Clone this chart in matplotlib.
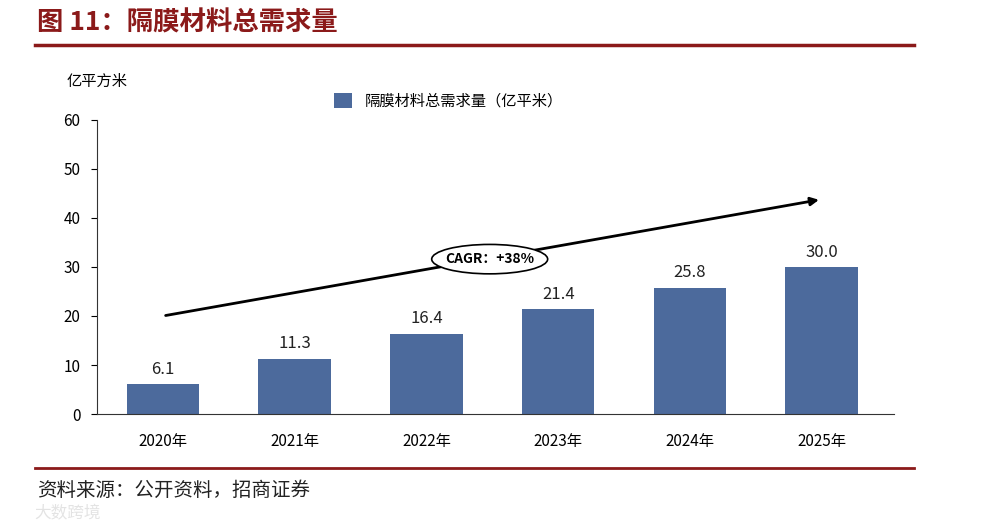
import matplotlib
matplotlib.use('Agg')
import matplotlib.pyplot as plt
from matplotlib.patches import Ellipse

plt.rcParams['font.family'] = ['Noto Sans CJK SC', 'DejaVu Sans']

# 数据
years = ['2020年', '2021年', '2022年', '2023年', '2024年', '2025年']
demand = [6.1, 11.3, 16.4, 21.4, 25.8, 30.0]
value_labels = ['6.1', '11.3', '16.4', '21.4', '25.8', '30.0']
yticks = [0, 10, 20, 30, 40, 50, 60]

bar_color = '#4C6A9C'
red = '#8B1A1A'

fig = plt.figure(figsize=(9.94, 5.27), dpi=100)
ax = fig.add_axes([0.0976, 0.2144, 0.802, 0.558])

x = range(len(years))
ax.bar(x, demand, width=0.55, color=bar_color, label='隔膜材料总需求量（亿平米）', zorder=2)
for xi, v, s in zip(x, demand, value_labels):
    ax.text(xi, v + 1.3, s, ha='center', va='bottom', fontsize=12, color='#222222')

ax.set_xlim(-0.5, 5.55)
ax.set_ylim(0, 60)
ax.set_yticks(yticks)
ax.set_xticks(list(x))
ax.set_xticklabels(years, fontsize=11)
ax.tick_params(axis='x', length=0, pad=14)
ax.tick_params(axis='y', direction='out', length=4, labelsize=11, pad=8)
for s in ['top', 'right']:
    ax.spines[s].set_visible(False)
ax.spines['left'].set_color('#333333')
ax.spines['bottom'].set_color('#333333')

# CAGR 箭头
ax.annotate('', xy=(5.0, 43.8), xytext=(0, 20),
            arrowprops=dict(arrowstyle='-|>', color='black', lw=2, mutation_scale=12),
            zorder=3)
ax.add_patch(Ellipse((2.48, 31.6), 0.88, 6.0, facecolor='white', edgecolor='black', lw=1.2, zorder=4))
ax.text(2.48, 31.6, 'CAGR：+38%', ha='center', va='center', fontsize=10, fontweight='bold', zorder=5)

ax.legend(loc='upper left', bbox_to_anchor=(0.28, 1.14), frameon=False, fontsize=11,
          handlelength=1.2, handleheight=1.2)

fig.text(0.0976, 0.845, '亿平方米', ha='center', va='center', fontsize=11)

# 标题与分隔线
fig.text(0.037, 0.957, '图 11：隔膜材料总需求量', ha='left', va='center', fontsize=19,
         fontweight='bold', color=red)
fig.add_artist(plt.Line2D([0.035, 0.92], [0.915, 0.915], color=red, lw=2.5))
fig.add_artist(plt.Line2D([0.035, 0.92], [0.112, 0.112], color=red, lw=2))
fig.text(0.037, 0.07, '资料来源：公开资料，招商证券', ha='left', va='center', fontsize=14, color='#222222')
fig.text(0.035, 0.025, '大数跨境', ha='left', va='center', fontsize=12, color='#dddddd', alpha=0.8)

fig.savefig('out.png', dpi=100)
